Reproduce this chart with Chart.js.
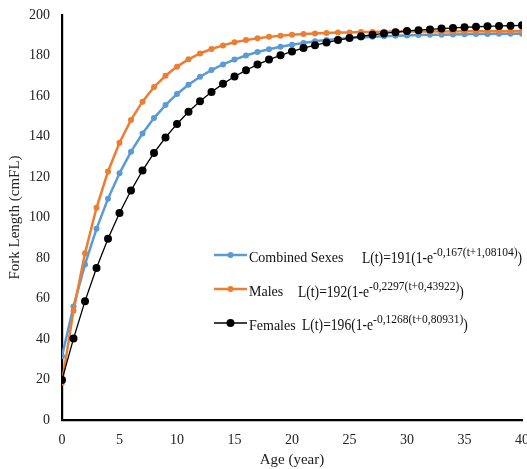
<!DOCTYPE html>
<html>
<head>
<meta charset="utf-8">
<script src="https://cdn.jsdelivr.net/npm/chart.js@4/dist/chart.umd.min.js"></script>
<style>
html,body{margin:0;padding:0;background:#fff;}
#wrap{width:527px;height:469px;position:relative;}
</style>
</head>
<body>
<div id="wrap"><canvas id="c" width="527" height="469"></canvas></div>
<script>
const ages = [0,1,2,3,4,5,6,7,8,9,10,11,12,13,14,15,16,17,18,19,20,21,22,23,24,25,26,27,28,29,30,31,32,33,34,35,36,37,38,39,40];
const combined = [31.5,56.1,76.8,94.4,109.3,121.8,132.5,141.5,149.1,155.5,161.0,165.6,169.5,172.8,175.6,178.0,180.0,181.7,183.1,184.3,185.3,186.2,187.0,187.6,188.1,188.6,188.9,189.2,189.5,189.7,189.9,190.1,190.2,190.3,190.4,190.5,190.6,190.6,190.7,190.7,190.8];
const males = [18.4,54.0,82.3,104.8,122.7,136.9,148.2,157.2,164.4,170.0,174.5,178.1,181.0,183.2,185.0,186.5,187.6,188.5,189.2,189.8,190.2,190.6,190.9,191.1,191.3,191.4,191.6,191.6,191.7,191.8,191.8,191.9,191.9,191.9,191.9,192.0,192.0,192.0,192.0,192.0,192.0];
const females = [19.8,40.2,58.7,75.1,89.5,102.2,113.3,123.2,131.9,139.5,146.2,152.2,157.4,162.0,166.0,169.6,172.7,175.5,178.0,180.1,182.0,183.7,185.1,186.4,187.6,188.6,189.5,190.2,190.9,191.5,192.1,192.5,192.9,193.3,193.6,193.9,194.2,194.4,194.6,194.7,194.9];
const seriesNames = ['Combined Sexes','Males','Females'];
const equations = [
  ['L(t)=191(1-e','-0,167(t+1,08104)',')'],
  ['L(t)=192(1-e','-0,2297(t+0,43922)',')'],
  ['L(t)=196(1-e','-0,1268(t+0,80931)',')']
];
const xTicks = [0,5,10,15,20,25,30,35,40];

const pts = arr => ages.map((a,i)=>({x:a,y:arr[i]}));
const SERIF = '"Liberation Serif", "Times New Roman", serif';

const legendPlugin = {
  id:'customLegend',
  afterDraw(chart){
    const ctx = chart.ctx;
    const ds = chart.data.datasets;
    const rows = [
      {ly:255, ty:262, ex:362, ey:263},
      {ly:289, ty:296, ex:298, ey:297},
      {ly:323, ty:330, ex:302, ey:330}
    ];
    const SX = 0.85;
    ctx.save();
    rows.forEach((r,i)=>{
      const d = ds[i];
      ctx.strokeStyle = d.borderColor;
      ctx.lineWidth = d.borderWidth;
      ctx.beginPath(); ctx.moveTo(214,r.ly); ctx.lineTo(247,r.ly); ctx.stroke();
      ctx.fillStyle = d.pointBackgroundColor;
      ctx.beginPath(); ctx.arc(230.5,r.ly,d.pointRadius,0,Math.PI*2); ctx.fill();
      ctx.fillStyle = '#111';
      ctx.textBaseline = 'alphabetic';
      ctx.textAlign = 'left';
      ctx.font = '14px ' + SERIF;
      ctx.fillText(seriesNames[i], 249, r.ty);
      const eq = equations[i];
      let x = r.ex;
      ctx.font = '16px ' + SERIF;
      ctx.save(); ctx.translate(x, r.ey); ctx.scale(SX,1); ctx.fillText(eq[0], 0, 0); ctx.restore();
      x += ctx.measureText(eq[0]).width * SX;
      ctx.font = '11.5px ' + SERIF;
      ctx.fillText(eq[1], x, r.ey - 7); x += ctx.measureText(eq[1]).width;
      ctx.font = '16px ' + SERIF;
      ctx.save(); ctx.translate(x, r.ey); ctx.scale(SX,1); ctx.fillText(eq[2], 0, 0); ctx.restore();
    });
    ctx.restore();
  }
};

new Chart(document.getElementById('c'), {
  type:'scatter',
  data:{
    datasets:[
      {label:seriesNames[0], data:pts(combined), showLine:true, borderColor:'#5B9BD5', backgroundColor:'#5B9BD5', pointBackgroundColor:'#5B9BD5', pointBorderColor:'#5B9BD5', borderWidth:2.5, pointRadius:3, pointBorderWidth:0, tension:0, order:2},
      {label:seriesNames[1], data:pts(males), showLine:true, borderColor:'#ED7D31', backgroundColor:'#ED7D31', pointBackgroundColor:'#ED7D31', pointBorderColor:'#ED7D31', borderWidth:2.5, pointRadius:3, pointBorderWidth:0, tension:0, order:1},
      {label:seriesNames[2], data:pts(females), showLine:true, borderColor:'#000000', backgroundColor:'#000000', pointBackgroundColor:'#000000', pointBorderColor:'#000000', borderWidth:1.3, pointRadius:4, pointBorderWidth:0, tension:0, order:0}
    ]
  },
  options:{
    responsive:false,
    animation:false,
    devicePixelRatio:1,
    layout:{padding:{left:0,right:5,top:15,bottom:0}},
    plugins:{legend:{display:false}, tooltip:{enabled:false}},
    scales:{
      x:{
        type:'linear', min:0, max:40,
        afterBuildTicks(scale){ scale.ticks = xTicks.map(v=>({value:v})); },
        afterFit(scale){ scale.height = 49; scale.paddingLeft = 0; scale.paddingRight = 0; },
        grid:{display:false, drawTicks:false},
        border:{display:true, color:'#000', width:2.2},
        ticks:{color:'#222', font:{family:SERIF, size:14}, padding:12, maxRotation:0, autoSkip:false},
        title:{display:true, text:'Age (year)', color:'#222', font:{family:SERIF, size:15}, padding:{top:0,bottom:0}}
      },
      y:{
        type:'linear', min:0, max:200,
        ticks:{stepSize:20, color:'#222', font:{family:SERIF, size:14}, padding:12},
        afterFit(scale){ scale.width = 62; scale.paddingTop = 0; scale.paddingBottom = 0; },
        grid:{display:false, drawTicks:false},
        border:{display:true, color:'#000', width:2.2},
        title:{display:true, text:'Fork Length (cmFL)', color:'#222', font:{family:SERIF, size:15}, padding:{top:6,bottom:0}}
      }
    }
  },
  plugins:[legendPlugin]
});
</script>
</body>
</html>
